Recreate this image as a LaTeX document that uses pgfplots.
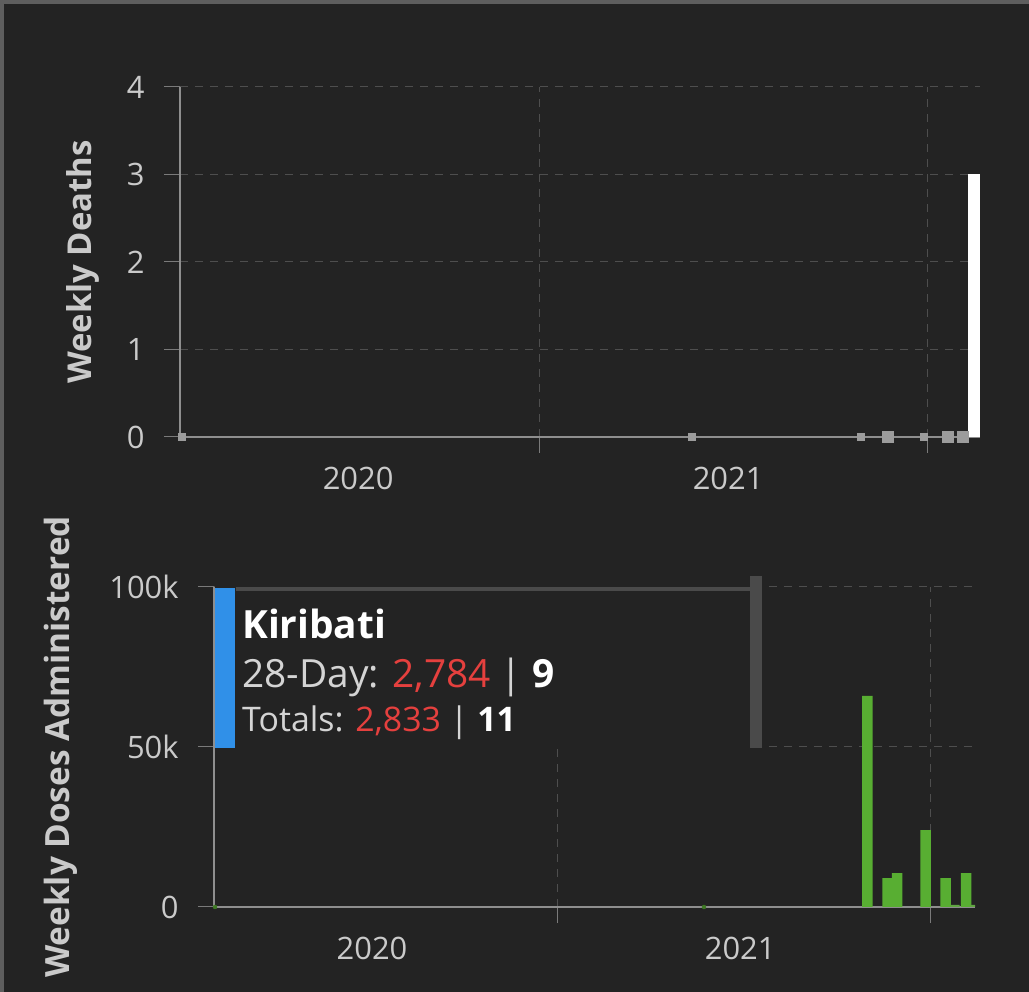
\documentclass[border=0pt]{standalone}
\usepackage{pgfplots}
\pgfplotsset{compat=1.18}
\usepackage{fontspec}
\setmainfont{Open Sans}

\definecolor{bg}{HTML}{232323}
\definecolor{frame}{HTML}{5E5E5E}
\definecolor{axc}{HTML}{8E8E8E}
\definecolor{tkc}{HTML}{7A7A7A}
\definecolor{grc}{HTML}{4E4E4E}
\definecolor{lbc}{HTML}{CACACA}
\definecolor{mkc}{HTML}{9C9C9C}
\definecolor{vgreen}{HTML}{58AE32}
\definecolor{tipblue}{HTML}{3090E8}
\definecolor{tipgray}{HTML}{4A4A4A}
\definecolor{tipred}{HTML}{E5403E}
\definecolor{tiptxt}{HTML}{D4D4D4}

\pgfplotsset{
  dark/.style={
    scale only axis,
    axis x line=bottom, axis y line=left,
    axis line style={draw=axc, line width=1.5bp, -},
    tick align=outside, major tick length=16bp,
    tick style={draw=tkc, line width=1bp},
    xmajorgrids, ymajorgrids,
    grid style={draw=grc, line width=1bp, dash pattern=on 8bp off 7bp},
    ticklabel style={font=\fontsize{31}{33}\selectfont, text=lbc},
    yticklabel style={xshift=-16bp},
    xticklabel style={yshift=-27bp},
    /pgf/number format/assume math mode=true,
    xtick={2021,2022}, xticklabels={,},
    extra x tick style={grid=none, major tick length=0pt},
    ymin=0,
  }
}

\begin{document}
\begin{tikzpicture}[x=1bp,y=1bp]
\fill[bg] (0,0) rectangle (1029,992);
\fill[frame] (0,988) rectangle (1029,992);
\fill[frame] (0,0) rectangle (4,992);
\path[use as bounding box] (0,0) rectangle (1029,992);

% weekly deaths
\begin{axis}[dark, at={(180bp,555bp)}, anchor=south west,
  width=800bp, height=350bp, clip=false,
  xmin=2020.0698, xmax=2022.137, ymax=4,
  ytick={0,1,2,3,4},
  extra x ticks={2020.530,2021.486}, extra x tick labels={2020,2021},
  ylabel={Weekly Deaths},
  every axis y label/.style={at={(axis description cs:-0.121,0.5)}, rotate=90, anchor=center,
    font=\fontsize{33}{35}\selectfont\bfseries, text=lbc}]
\addplot[only marks, mark=square*, mark size=5.5bp, color=mkc] coordinates {
  (2021.898,0) (2022.053,0) (2022.092,0)};
\addplot[only marks, mark=square*, mark size=3.5bp, color=mkc] coordinates {
  (2020.075,0) (2021.393,0) (2021.829,0) (2021.991,0)};
\addplot[ybar, bar shift=0pt, bar width=0.031, fill=white, draw=none] coordinates {
  (2022.121,3)};
\end{axis}

% weekly doses
\begin{axis}[dark, at={(214bp,85bp)}, anchor=south west,
  width=761bp, height=320bp,
  xmin=2020.0804, xmax=2022.1206, ymax=100000,
  ytick={0,50000,100000}, yticklabels={0,50k,100k}, scaled y ticks=false,
  extra x ticks={2020.504,2021.491}, extra x tick labels={2020,2021},
  ylabel={Weekly Doses Administered},
  every axis y label/.style={at={(axis description cs:-0.201,0.5)}, rotate=90, anchor=center,
    font=\fontsize{33.5}{35}\selectfont\bfseries, text=lbc}]
\addplot[only marks, mark=*, mark size=2bp, color=vgreen!70!black] coordinates {
  (2020.083,0) (2021.394,0)};
\addplot[ybar, bar shift=0pt, bar width=0.028, fill=vgreen, draw=none] coordinates {
  (2021.832,66000) (2021.886,9000) (2021.912,10600) (2021.988,24000)
  (2022.042,9000) (2022.097,10600)};
\addplot[ybar, bar shift=0pt, bar width=0.024, fill=vgreen!80!gray, draw=none] coordinates {
  (2022.067,700) (2022.118,700)};
\end{axis}

% tooltip
\fill[bg] (215,244) rectangle (750,409);
\fill[tipgray] (236,401) rectangle (750,405);
\fill[tipgray] (750,244) rectangle (762,416);
\fill[tipblue] (215,244) rectangle (235,404);
\node[anchor=base west, inner sep=0pt, text=white, font=\fontsize{39}{41}\selectfont\bfseries]
  at (242,353) {Kiribati};
\node[anchor=base west, inner sep=0pt, text=tiptxt, font=\fontsize{39}{41}\selectfont]
  at (242,304) {28-Day: \textcolor{tipred}{2,784} | \textcolor{white}{\bfseries 9}};
\node[anchor=base west, inner sep=0pt, text=tiptxt, font=\fontsize{34}{36}\selectfont]
  at (242,260) {Totals: \textcolor{tipred}{2,833} | \textcolor{white}{\bfseries 11}};
\end{tikzpicture}
\end{document}
